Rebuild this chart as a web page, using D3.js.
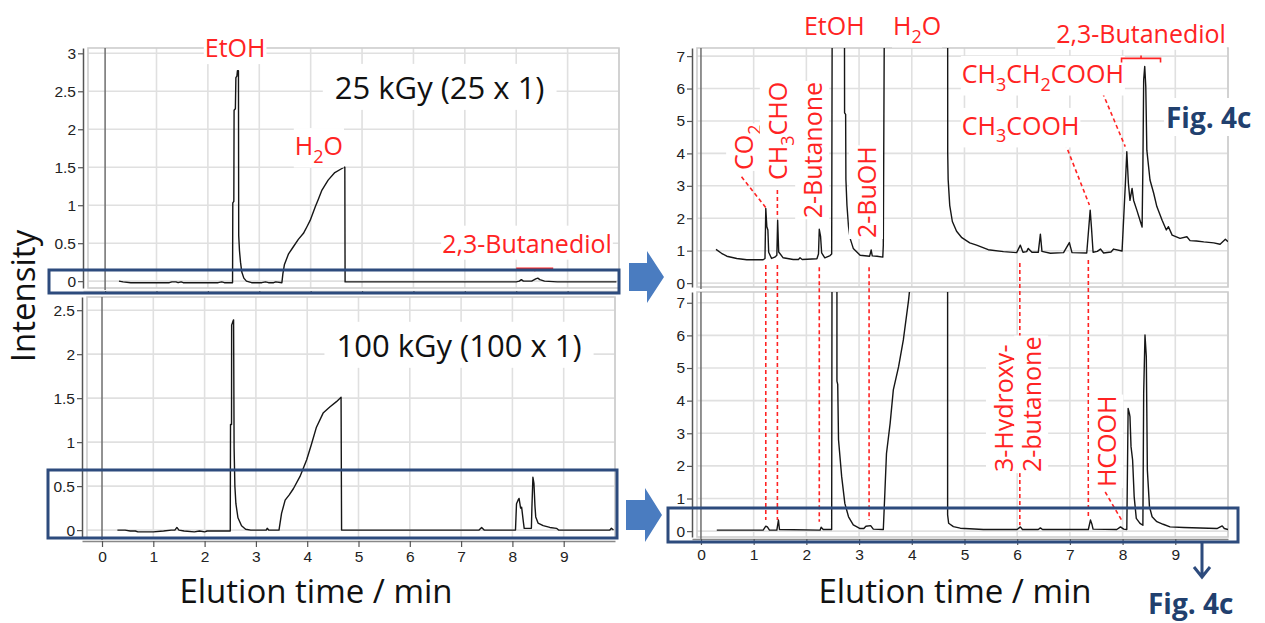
<!DOCTYPE html>
<html><head><meta charset="utf-8">
<script src="https://cdn.jsdelivr.net/npm/d3@7"></script>
<style>body{margin:0;background:#fff}svg{display:block}</style>
</head><body>
<svg id="c" width="1265" height="623"></svg>
<script>
// ---------------- DATA ----------------
const xTicks = [0,1,2,3,4,5,6,7,8,9];
const gridX = [1,2,3,4,5,6,7,8,9,10];
const yTicksTL = [0,0.5,1,1.5,2,2.5,3];
const yTicksBL = [0,0.5,1,1.5,2,2.5];
const yTicksR = [0,1,2,3,4,5,6,7];

// 25 kGy full scale  [time/min, intensity]
const traceTL = [
[0.27,0.0],[0.35,-0.01],[0.5,-0.02],[0.8,-0.02],[1.1,-0.02],[1.25,-0.02],[1.3,-0.01],[1.38,-0.01],[1.42,-0.02],[1.48,-0.01],[1.52,-0.02],[1.9,-0.02],[2.2,-0.02],[2.27,-0.01],[2.32,-0.02],[2.48,-0.02],[2.485,1.03],[2.505,1.05],[2.51,2.25],[2.535,2.27],[2.545,2.68],[2.565,2.7],[2.575,2.77],[2.595,2.77],[2.6,0.6],[2.615,0.4],[2.635,0.25],[2.66,0.12],[2.7,0.04],[2.75,0.0],[2.85,-0.02],[3.05,-0.02],[3.12,-0.01],[3.18,-0.02],[3.28,-0.02],[3.32,-0.01],[3.44,-0.02],[3.46,0.1],[3.49,0.22],[3.57,0.36],[3.66,0.45],[3.76,0.55],[3.86,0.63],[3.93,0.72],[3.99,0.80],[4.09,0.98],[4.15,1.08],[4.22,1.2],[4.34,1.33],[4.47,1.43],[4.6,1.48],[4.65,1.5],[4.665,1.5],[4.67,-0.01],[4.8,-0.01],[5.5,-0.01],[6.5,-0.01],[7.5,-0.01],[8.0,-0.01],[8.06,0.0],[8.1,0.02],[8.14,0.0],[8.3,0.0],[8.38,0.03],[8.42,0.04],[8.46,0.02],[8.55,0.0],[8.8,-0.01],[9.5,-0.01],[9.95,-0.01]
];
// 100 kGy full scale
const traceBL = [
[0.3,0.0],[0.45,0.0],[0.55,-0.01],[0.65,-0.01],[0.7,-0.02],[1.0,-0.02],[1.2,-0.01],[1.35,0.0],[1.42,0.0],[1.46,0.03],[1.5,0.0],[1.6,-0.01],[1.8,-0.02],[1.9,-0.01],[2.0,-0.02],[2.05,-0.01],[2.5,-0.01],[2.505,1.2],[2.525,1.2],[2.527,2.33],[2.55,2.37],[2.565,2.39],[2.575,0.93],[2.59,0.5],[2.61,0.3],[2.65,0.14],[2.72,0.05],[2.8,0.01],[2.9,0.0],[3.2,0.0],[3.22,0.02],[3.25,0.0],[3.45,0.0],[3.5,0.19],[3.57,0.34],[3.65,0.4],[3.73,0.47],[3.86,0.61],[3.99,0.8],[4.08,0.97],[4.18,1.17],[4.31,1.33],[4.44,1.40],[4.57,1.46],[4.66,1.51],[4.67,0.0],[5.5,0.0],[6.5,0.0],[7.35,0.0],[7.4,0.03],[7.45,0.0],[8.06,0.0],[8.08,0.3],[8.11,0.34],[8.13,0.36],[8.16,0.25],[8.18,0.26],[8.21,0.11],[8.23,0.02],[8.37,0.02],[8.38,0.25],[8.40,0.6],[8.42,0.53],[8.44,0.27],[8.455,0.15],[8.5,0.08],[8.6,0.05],[8.73,0.03],[8.86,0.02],[8.9,0.0],[9.5,0.0],[9.9,0.0],[9.93,0.02],[9.97,0.0]
];
// 25 kGy enlarged
const traceTR = [
[0.285,1.04],[0.39,0.92],[0.49,0.83],[0.68,0.76],[0.87,0.72],[1.18,0.72],[1.215,0.76],[1.23,2.3],[1.25,1.74],[1.27,1.64],[1.285,0.95],[1.34,0.76],[1.40,0.80],[1.44,0.86],[1.455,1.94],[1.475,0.96],[1.56,0.78],[1.75,0.73],[1.85,0.73],[1.88,0.78],[1.92,0.73],[2.2,0.75],[2.23,0.9],[2.245,1.66],[2.27,1.43],[2.29,0.93],[2.35,0.78],[2.45,0.85],[2.48,0.9],[2.495,12],[2.72,12],[2.725,5.25],[2.745,5.2],[2.75,3.2],[2.77,2.4],[2.8,1.74],[2.83,1.38],[2.89,1.07],[3.02,0.86],[3.2,0.83],[3.23,1.02],[3.25,0.84],[3.34,0.83],[3.45,0.8],[3.46,1.17],[3.49,12],[4.68,12],[4.682,4.0],[4.69,3.2],[4.72,2.4],[4.77,1.9],[4.85,1.6],[4.95,1.4],[5.1,1.24],[5.23,1.17],[5.45,1.03],[5.74,0.97],[5.99,0.94],[6.06,1.17],[6.11,0.95],[6.18,0.97],[6.21,1.07],[6.28,0.95],[6.40,0.95],[6.44,1.51],[6.47,0.98],[6.63,0.92],[6.88,0.94],[6.99,1.25],[7.04,0.94],[7.32,0.93],[7.385,2.25],[7.41,1.7],[7.44,0.95],[7.52,0.98],[7.58,1.05],[7.64,0.93],[7.78,0.96],[7.83,1.05],[7.99,0.99],[8.05,2.97],[8.08,4.05],[8.11,3.08],[8.14,2.55],[8.18,2.92],[8.21,2.55],[8.27,2.25],[8.33,1.94],[8.37,1.73],[8.385,3.58],[8.40,6.27],[8.42,6.68],[8.44,6.06],[8.46,4.1],[8.52,3.18],[8.59,2.77],[8.65,2.36],[8.75,1.94],[8.83,1.64],[8.87,1.74],[8.94,1.48],[9.09,1.38],[9.22,1.43],[9.28,1.31],[9.4,1.3],[9.54,1.27],[9.73,1.24],[9.85,1.20],[9.95,1.35],[10.0,1.28]
];
// 100 kGy enlarged
const traceBR = [
[0.3,0.03],[1.18,0.03],[1.23,0.15],[1.26,0.13],[1.30,0.03],[1.44,0.03],[1.47,0.34],[1.49,0.05],[2.26,0.03],[2.28,0.12],[2.32,0.05],[2.48,0.05],[2.49,12],[2.58,12],[2.58,4.6],[2.595,4.5],[2.61,2.8],[2.67,1.67],[2.73,0.85],[2.80,0.44],[2.89,0.19],[3.02,0.08],[3.09,0.08],[3.13,0.15],[3.22,0.17],[3.27,0.06],[3.46,0.05],[3.49,1.2],[3.52,2.38],[3.59,3.31],[3.65,4.33],[3.75,5.04],[3.84,5.86],[3.94,7.09],[4.03,8.5],[4.2,12],[4.68,12],[4.68,0.5],[4.70,0.24],[4.79,0.14],[4.92,0.09],[5.36,0.05],[6.0,0.05],[6.06,0.13],[6.1,0.05],[6.40,0.05],[6.44,0.1],[6.48,0.05],[7.35,0.05],[7.39,0.34],[7.42,0.2],[7.44,0.06],[7.89,0.05],[7.96,0.13],[8.02,0.06],[8.08,0.05],[8.105,3.76],[8.13,3.6],[8.14,3.51],[8.16,2.59],[8.19,2.18],[8.22,1.05],[8.26,0.39],[8.33,0.24],[8.385,0.18],[8.40,4.22],[8.425,6.01],[8.45,5.35],[8.47,1.87],[8.51,0.75],[8.56,0.44],[8.65,0.29],[8.77,0.21],[8.90,0.13],[9.16,0.11],[9.79,0.08],[9.89,0.16],[9.93,0.08],[10.0,0.05]
];

// annotation labels, in each panel's data coordinates
const labelsTL = [
 {text:'EtOH', t:2.53, v:2.95, anchor:'middle'},
 {text:'H_2O', t:4.16, v:1.66, anchor:'middle'},
 {text:'2,3-Butanediol', t:8.21, v:0.375, anchor:'middle'}
];
const doseTL = {text:'25 kGy (25 x 1)', t:4.47, v:2.4};
const doseBL = {text:'100 kGy (100 x 1)', t:4.57, v:1.97};
const labelsTR = [
 {text:'EtOH', t:2.53, v:7.65, anchor:'middle'},
 {text:'H_2O', t:4.1, v:7.65, anchor:'middle'},
 {text:'CO_2', t:0.99, v:3.49, rot:true},
 {text:'CH_3CHO', t:1.63, v:3.18, rot:true},
 {text:'2-Butanone', t:2.30, v:2.0, rot:true},
 {text:'2-BuOH', t:3.32, v:1.39, rot:true},
 {text:'CH_3CH_2COOH', t:4.95, v:6.17},
 {text:'CH_3COOH', t:4.95, v:4.57},
 {text:'2,3-Butanediol', t:8.35, v:7.41, anchor:'middle'}
];
const labelsBR = [
 {text:'3-Hydroxy-', t:5.92, v:1.81, rot:true},
 {text:'2-butanone', t:6.455, v:1.81, rot:true},
 {text:'HCOOH', t:7.88, v:1.35, rot:true}
];
// dashed leader lines [t1, v1, t2, v2]
const leadersTR = [[0.77,3.28,1.24,2.31],[1.45,2.87,1.45,2.0],[6.91,4.31,7.37,2.41],[7.62,5.87,8.05,4.21]];
const leadersBR = [[7.67,1.2,7.98,0.34]];
// vertical dashed lines across both enlarged panels [t, v top (TR), v bottom (BR)]
const crossLines = [[1.23,0.56,0.34],[1.45,0.56,0.34],[2.245,0.49,0.29],[3.19,0.49,0.34],[6.05,0.62,0.18],[7.35,0.71,0.43]];
// brackets [t1, t2, v]
const bracketTL = [8.0, 8.72, 0.17];
const bracketTR = [7.98, 8.72, 6.93];

// ---------------- DRAW ----------------
const FONT = "'Open Sans','DejaVu Sans',sans-serif";
const TICKFONT = "'Liberation Sans',Arial,sans-serif";
const RED = '#ff2323';
const NAVY = '#2d4b7d';
const svg = d3.select('#c');
const defs = svg.append('defs');

const panels = {
 TL:{xDom:[-0.43,10], xR:[83,619], yDom:[-0.09,3.07], yR:[288,48], axisY:291, yTicks:yTicksTL, xLabels:false, trace:traceTL},
 TR:{xDom:[-0.17,10], xR:[692,1228], yDom:[-0.12,7.25], yR:[287,48], axisY:290, yTicks:yTicksR, xLabels:false, trace:traceTR},
 BL:{xDom:[-0.39,10], xR:[82,615], yDom:[-0.09,2.65], yR:[538,297], axisY:541, yTicks:yTicksBL, xLabels:true, trace:traceBL},
 BR:{xDom:[-0.17,10], xR:[692,1228], yDom:[-0.18,7.33], yR:[537,292], axisY:539, yTicks:yTicksR, xLabels:true, trace:traceBR}
};

function drawPanel(key){
  const p = panels[key];
  p.x = d3.scaleLinear().domain(p.xDom).range(p.xR);
  p.y = d3.scaleLinear().domain(p.yDom).range(p.yR);
  const g = svg.append('g');
  const fx0 = p.xR[0]+5, fx1 = p.xR[1], fy0 = p.yR[1], fy1 = p.yR[0];
  const bottom = p.xLabels ? p.axisY+26 : fy1+3;
  g.append('rect').attr('x', p.xR[0]-40).attr('y', fy0-3).attr('width', fx1-p.xR[0]+46)
    .attr('height', bottom-fy0+3).attr('fill','#fff');
  g.selectAll('line.gh').data(p.yTicks).join('line').attr('class','gh')
    .attr('x1',fx0).attr('x2',fx1).attr('y1',d=>p.y(d)).attr('y2',d=>p.y(d))
    .attr('stroke','#e0e0e0').attr('stroke-width',1.6);
  g.selectAll('line.gv').data(gridX).join('line').attr('class','gv')
    .attr('x1',d=>p.x(d)).attr('x2',d=>p.x(d)).attr('y1',fy0).attr('y2',fy1)
    .attr('stroke','#e0e0e0').attr('stroke-width',1.6);
  g.append('rect').attr('x',fx0).attr('y',fy0).attr('width',fx1-fx0).attr('height',fy1-fy0)
    .attr('fill','none').attr('stroke','#cdcdcd').attr('stroke-width',1.6);
  g.append('line').attr('x1',p.x(0)).attr('x2',p.x(0)).attr('y1',fy0).attr('y2',fy1+2)
    .attr('stroke','#6e6e6e').attr('stroke-width',1.5);
  const cid = 'clip'+key;
  defs.append('clipPath').attr('id',cid).append('rect')
    .attr('x',fx0).attr('y',fy0).attr('width',fx1-fx0).attr('height',fy1-fy0);
  g.append('path').datum(p.trace)
    .attr('d', d3.line().x(d=>p.x(d[0])).y(d=>p.y(d[1])))
    .attr('fill','none').attr('stroke','#161616').attr('stroke-width',1.4)
    .attr('stroke-linejoin','round').attr('clip-path',`url(#${cid})`);
  const ya = d3.axisLeft(p.y).tickValues(p.yTicks).tickSize(5).tickPadding(2).tickSizeOuter(0).tickFormat(d3.format('~g'));
  const yg = g.append('g').attr('transform',`translate(${p.xR[0]},0)`).call(ya);
  const xa = d3.axisBottom(p.x).tickValues(xTicks).tickSize(6).tickPadding(4).tickSizeOuter(0);
  const xg = g.append('g').attr('transform',`translate(0,${p.axisY})`).call(xa);
  if(!p.xLabels){ xg.selectAll('text').remove(); xg.select('.domain').attr('stroke','#cfcfcf'); }
  [yg,xg].forEach(a=>{
    a.select('.domain').attr('stroke-width',1.5);
    a.selectAll('.tick line').attr('stroke','#555').attr('stroke-width',1.2);
    a.selectAll('text').attr('font-family',TICKFONT).attr('font-size',15.5).attr('fill','#222');
  });
  yg.select('.domain').attr('stroke','#555');
  if(p.xLabels) xg.select('.domain').attr('stroke','#888');
}
['TL','TR','BL','BR'].forEach(drawPanel);

function addRich(txt, s, fs){
  const parts = s.split(/(_\d)/).filter(q=>q);
  let sub = false;
  parts.forEach(q=>{
    if(q[0]==='_'){ txt.append('tspan').attr('dy', fs*0.3).attr('font-size', fs*0.72).text(q.slice(1)); sub = true; }
    else { const t = txt.append('tspan').text(q); if(sub){ t.attr('dy', -fs*0.3); sub = false; } }
  });
}
function label(p, o){
  const fs = o.fs || 25;
  const x = p.x(o.t), y = p.y(o.v);
  const g = svg.append('g').attr('transform', `translate(${x},${y})` + (o.rot ? ' rotate(-90)' : ''));
  const txt = g.append('text').attr('font-family', FONT).attr('font-size', fs)
    .attr('fill', o.color || RED).attr('text-anchor', o.anchor || 'start');
  addRich(txt, o.text, fs);
  const bb = txt.node().getBBox();
  const px = o.padX || 1, py = o.padY || 0;
  g.insert('rect','text').attr('x', bb.x-px).attr('y', bb.y-py)
    .attr('width', bb.width+2*px).attr('height', bb.height+2*py).attr('fill','#fff');
}

// dashed leaders
const dashStyle = s => s.attr('stroke', RED).attr('stroke-width',1.6).attr('stroke-dasharray','4,3').attr('fill','none');
const TR = panels.TR, BR = panels.BR, TL = panels.TL, BL = panels.BL;
crossLines.forEach(c=>{
  svg.append('line').attr('x1',TR.x(c[0])).attr('x2',TR.x(c[0])).attr('y1',TR.y(c[1])).attr('y2',BR.y(c[2])).call(dashStyle);
});
leadersTR.forEach(l=>{
  svg.append('line').attr('x1',TR.x(l[0])).attr('y1',TR.y(l[1])).attr('x2',TR.x(l[2])).attr('y2',TR.y(l[3])).call(dashStyle);
});
leadersBR.forEach(l=>{
  svg.append('line').attr('x1',BR.x(l[0])).attr('y1',BR.y(l[1])).attr('x2',BR.x(l[2])).attr('y2',BR.y(l[3])).call(dashStyle);
});

// labels
labelsTL.forEach(o=>label(TL,o));
labelsTR.forEach(o=>label(TR,o));
labelsBR.forEach(o=>label(BR,o));
label(TL, Object.assign({fs:31, color:'#111', padX:12, padY:2}, doseTL));
label(BL, Object.assign({fs:31, color:'#111', padX:12, padY:2}, doseBL));

// brackets
function bracket(p, b, ends){
  const x1 = p.x(b[0]), x2 = p.x(b[1]), y = p.y(b[2]), xm = (x1+x2)/2;
  const d = ends ? `M${x1},${y+4}V${y}H${x2}V${y+4}M${xm},${y}V${y-3}` : `M${x1},${y}H${x2}M${xm},${y}V${y+3}`;
  svg.append('path').attr('d', d).attr('stroke', RED).attr('stroke-width',1.6).attr('fill','none');
}
bracket(TL, bracketTL, false);
bracket(TR, bracketTR, true);

// highlight boxes
[[49,270,619,293],[48,470,617,538],[668,508,1238,542]].forEach(r=>{
  svg.append('rect').attr('x',r[0]).attr('y',r[1]).attr('width',r[2]-r[0]).attr('height',r[3]-r[1])
    .attr('fill','none').attr('stroke',NAVY).attr('stroke-width',3);
});
// block arrows
svg.append('path').attr('d','M629,263H647V251L664,277L647,303V291H629Z').attr('fill','#4a7cc0');
svg.append('path').attr('d','M626,500H645V488L662,515L645,542V530H626Z').attr('fill','#4a7cc0');
// down arrow
svg.append('path').attr('d','M1202,543V577M1194,567L1202,577L1210,567').attr('stroke',NAVY).attr('stroke-width',3).attr('fill','none');

// Fig. 4c labels
function figLabel(x, y){
  const g = svg.append('g').attr('transform',`translate(${x},${y})`);
  const t = g.append('text').attr('font-family',FONT).attr('font-weight',700).attr('font-size',28).attr('fill','#21406e').text('Fig. 4c');
  const bb = t.node().getBBox();
  g.insert('rect','text').attr('x',bb.x-2).attr('y',bb.y).attr('width',bb.width+4).attr('height',bb.height).attr('fill','#fff');
}
figLabel(1166, 128);
figLabel(1148, 614);

// axis titles
svg.append('text').attr('x',316).attr('y',603).attr('text-anchor','middle').attr('font-family',FONT).attr('font-size',33).attr('fill','#111').text('Elution time / min');
svg.append('text').attr('x',955).attr('y',603).attr('text-anchor','middle').attr('font-family',FONT).attr('font-size',33).attr('fill','#111').text('Elution time / min');
svg.append('text').attr('transform','translate(35,296) rotate(-90)').attr('text-anchor','middle').attr('font-family',FONT).attr('font-size',33).attr('fill','#111').text('Intensity');
</script>
</body></html>
